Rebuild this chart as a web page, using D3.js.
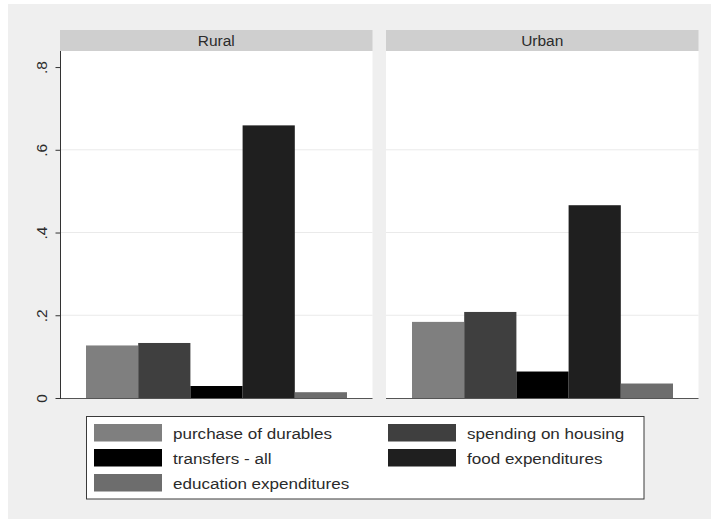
<!DOCTYPE html>
<html>
<head>
<meta charset="utf-8">
<script src="https://cdn.jsdelivr.net/npm/d3@7"></script>
<style>
  body { margin: 0; background: #ffffff; }
  svg { display: block; font-family: "Liberation Sans", Arial, sans-serif; }
</style>
</head>
<body>
<svg id="chart"></svg>
<script>
// data
const panels = ["Rural", "Urban"]
const series = ["purchase of durables", "spending on housing", "transfers - all", "food expenditures", "education expenditures"]
const rural_values = [0.127, 0.133, 0.029, 0.659, 0.014]
const urban_values = [0.184, 0.208, 0.064, 0.466, 0.035]
const y_ticks = [0, 0.2, 0.4, 0.6, 0.8]
const y_tick_labels = ["0", ".2", ".4", ".6", ".8"]

const colors = ["#7f7f7f", "#3f3f3f", "#000000", "#1f1f1f", "#6d6d6d"]

const width = 711
const height = 519

const svg = d3.select("#chart")
    .attr("width", width)
    .attr("height", height)

// outer graph region
svg.append("rect")
    .attr("x", 8).attr("y", 4)
    .attr("width", width - 8).attr("height", height - 4)
    .attr("fill", "#efefef")

const panel_boxes = [
    { left: 60, right: 372.5 },
    { left: 386, right: 698.5 },
]
const plot_top = 51
const strip_top = 30

const y = d3.scaleLinear()
    .domain([0, 0.84])
    .range([398, 50.5])

const all_values = [rural_values, urban_values]

panels.forEach(function(name, i) {
    const box = panel_boxes[i]
    const g = svg.append("g")

    // plot area
    g.append("rect")
        .attr("x", box.left).attr("y", plot_top)
        .attr("width", box.right - box.left).attr("height", y(0) - plot_top)
        .attr("fill", "#ffffff")

    // gridlines
    g.selectAll("line.grid")
        .data(y_ticks.filter(d => d > 0 && d < 0.8))
        .enter()
        .append("line")
        .attr("x1", box.left).attr("x2", box.right)
        .attr("y1", d => y(d)).attr("y2", d => y(d))
        .attr("stroke", "#eaeaea")
        .attr("stroke-width", 1)

    // strip
    g.append("rect")
        .attr("x", box.left).attr("y", strip_top)
        .attr("width", box.right - box.left).attr("height", plot_top - strip_top)
        .attr("fill", "#cfcfcf")
    g.append("text")
        .attr("x", (box.left + box.right) / 2)
        .attr("y", 46)
        .attr("text-anchor", "middle")
        .attr("font-size", "15.5px")
        .attr("fill", "#2b2b2b")
        .text(name)

    const x = d3.scaleBand()
        .domain(series)
        .range([box.left + 26, box.right - 25.5])
        .padding(0)

    g.selectAll("rect.bar")
        .data(series.map((s, k) => ({ s: s, v: all_values[i][k], c: colors[k] })))
        .enter()
        .append("rect")
        .attr("class", "bar")
        .attr("x", d => x(d.s))
        .attr("width", x.bandwidth())
        .attr("y", d => y(d.v))
        .attr("height", d => y(0) - y(d.v))
        .attr("fill", d => d.c)

    // baseline
    g.append("line")
        .attr("x1", box.left).attr("x2", box.right)
        .attr("y1", y(0) + 0.5).attr("y2", y(0) + 0.5)
        .attr("stroke", "#555555")
        .attr("stroke-width", 1.2)
})

// y axis on the left panel
const axis_g = svg.append("g")
    .attr("transform", "translate(60.5,0)")
    .call(d3.axisLeft(y)
        .tickValues(y_ticks)
        .tickFormat((d, k) => y_tick_labels[k])
        .tickSize(5)
        .tickPadding(0))
axis_g.select(".domain")
    .attr("d", "M0," + plot_top + "V" + (y(0) + 1))
    .attr("stroke", "#333333")
axis_g.selectAll(".tick line").attr("stroke", "#333333")
axis_g.selectAll(".tick text")
    .attr("x", null).attr("dy", null)
    .attr("text-anchor", "middle")
    .attr("transform", "translate(-18.5,0) rotate(-90)")
    .attr("y", 5)
    .attr("font-size", "15.5px")
    .attr("font-family", "Liberation Sans, Arial, sans-serif")
    .attr("fill", "#2b2b2b")

// legend
const legend = svg.append("g")
legend.append("rect")
    .attr("x", 86.5).attr("y", 416.5)
    .attr("width", 557.5).attr("height", 82.5)
    .attr("fill", "#ffffff")
    .attr("stroke", "#3a3a3a")
    .attr("stroke-width", 1)

const legend_cols = [94, 388]
const legend_rows = [424, 449, 474]
series.forEach(function(s, k) {
    const cx = legend_cols[k % 2]
    const cy = legend_rows[Math.floor(k / 2)]
    legend.append("rect")
        .attr("x", cx).attr("y", cy)
        .attr("width", 68).attr("height", 17.5)
        .attr("fill", colors[k])
    legend.append("text")
        .attr("transform", "translate(" + (cx + 79) + "," + (cy + 14.5) + ") scale(1.1,1)")
        .attr("font-size", "15.5px")
        .attr("fill", "#2b2b2b")
        .text(s)
})
</script>
</body>
</html>
